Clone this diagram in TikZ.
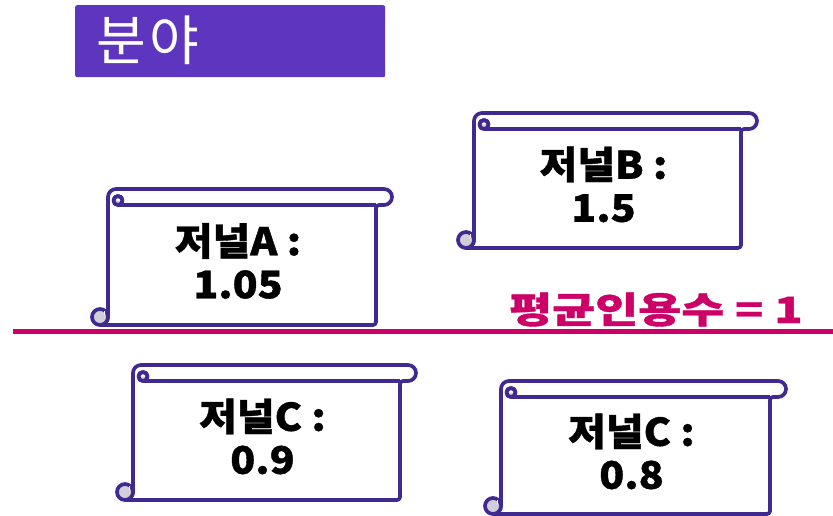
\documentclass[tikz,border=0pt]{standalone}
\usepackage{fontspec}
\setmainfont{Noto Sans CJK KR}
\newfontfamily\krwide{Noto Sans CJK KR}[FakeStretch=1.3, FakeBold=1]
\newfontfamily\krscr{Noto Sans CJK KR}[FakeStretch=1.08, FakeBold=1]
\definecolor{scrline}{RGB}{64,42,144}
\definecolor{titlebg}{RGB}{93,53,190}
\definecolor{avgline}{RGB}{204,0,102}
\definecolor{curlfill}{RGB}{208,206,216}
\tikzset{
  scr/.style={draw=scrline, line width=3.7pt, line join=round},
  scrtext/.style={font=\krscr\bfseries\fontsize{38}{43}\selectfont, align=center, inner sep=0pt},
}
\newcommand{\myscroll}[6]{%
  \pgfmathsetmacro\cx{(#1+#3-16)/2-4}%
  \pgfmathsetmacro\cy{(#2+16+#4)/2-4}%
  \filldraw[scr, fill=white] (#1-8,#4) {[rounded corners=3pt] -- (#3-16,#4) -- (#3-16,#2+16)} -- (#3-8,#2+16) arc (90:-90:8) -- (#1+8,#2) arc (-90:-180:8) -- (#1,#4-8) arc (0:90:8) -- cycle;
  \draw[scr] (#1+10,#2+16) -- (#3-16,#2+16);
  \filldraw[scr, fill=white] (#1+10,#2+11.5) circle (4.5);
  \fill[curlfill] (#1+5.5,#2+11.5) arc (180:0:4.5) -- cycle;
  \draw[scr] (#1+10,#2+11.5) circle (4.5);
  \filldraw[scr, fill=curlfill] (#1-8,#4-8) circle (8);
  \draw[white, line width=1pt] (#1-4,#4-14) -- (#1-4,#4-10);
  \node[scrtext] (#5) at (\cx,\cy) {#6};
}
\begin{document}
\begin{tikzpicture}[x=1pt,y=-1pt]
\useasboundingbox (0,0) rectangle (833,516);
% title
\node[fill=titlebg, rounded corners=2pt, minimum width=310pt, minimum height=72pt, inner sep=0pt, anchor=north west] (title) at (75,5) {};
\node[anchor=base west, text=white, font=\fontsize{54}{54}\selectfont, inner sep=0pt] (titletext) at (96,61) {분\hspace{4pt}야};
% scrolls
\myscroll{108}{189}{392}{325}{ja}{저널A :\\1.05}
\myscroll{474}{113}{757}{248}{jb}{저널B :\\1.5}
\myscroll{133}{365}{416}{500}{jc}{저널C :\\0.9}
\myscroll{501}{381}{786}{514}{jd}{저널C :\\0.8}
% average line
\coordinate (ls) at (13,331);
\coordinate (le) at (833,331);
\draw[avgline, line width=5pt] (ls) -- (le);
\node[anchor=base east, text=avgline, font=\krwide\bfseries\fontsize{36}{36}\selectfont, inner sep=0pt] (avg) at (803,323) {평균인용수 = 1};
\end{tikzpicture}
\end{document}
